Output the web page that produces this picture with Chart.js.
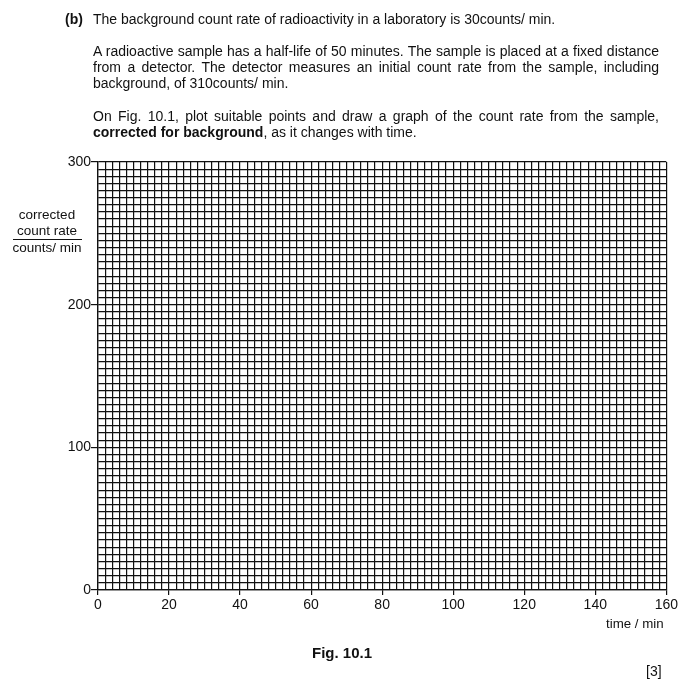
<!DOCTYPE html>
<html>
<head>
<meta charset="utf-8">
<script src="https://cdn.jsdelivr.net/npm/chart.js@4/dist/chart.umd.min.js"></script>
<style>
  html, body { margin: 0; padding: 0; background: #fff; }
  body { width: 680px; height: 689px; position: relative; overflow: hidden;
         font-family: "Liberation Sans", Arial, sans-serif; color: #111; }
  #wrap { position: absolute; left: 0; top: 0; width: 680px; height: 689px; }
  .t { position: absolute; font-size: 14px; line-height: 16px; white-space: nowrap; }
  .j { position: absolute; left: 93px; width: 566px; font-size: 14px; line-height: 16px;
       white-space: nowrap; text-align: justify; text-align-last: justify; }
  .c { position: absolute; font-size: 13.5px; line-height: 16px; text-align: center; }
</style>
</head>
<body>
<div id="wrap"><canvas id="chart" width="680" height="689"></canvas></div>

<div class="t" style="left:65px; top:11px;"><b>(b)</b></div>
<div class="t" style="left:93px; top:11px;">The background count rate of radioactivity in a laboratory is 30counts/ min.</div>

<div class="j" style="top:43px;">A radioactive sample has a half-life of 50 minutes. The sample is placed at a fixed distance</div>
<div class="j" style="top:59px;">from a detector. The detector measures an initial count rate from the sample, including</div>
<div class="t" style="left:93px; top:75px;">background, of 310counts/ min.</div>

<div class="j" style="top:108px;">On Fig. 10.1, plot suitable points and draw a graph of the count rate from the sample,</div>
<div class="t" style="left:93px; top:124px;"><b>corrected for background</b>, as it changes with time.</div>

<div class="c" style="left:8px; width:78px; top:207px;">corrected</div>
<div class="c" style="left:8px; width:78px; top:223px;">count rate</div>
<div style="position:absolute; left:13px; width:69px; top:239px; height:1px; background:#111;"></div>
<div class="c" style="left:8px; width:78px; top:240px;">counts/ min</div>

<div class="t" style="left:606px; top:616px; font-size:13.3px;">time / min</div>
<div class="t" style="left:312px; top:645px; font-size:15px;"><b>Fig. 10.1</b></div>
<div class="t" style="left:646px; top:663px;">[3]</div>

<script>
// Axis ranges and labelled ticks
const xMin = 0, xMax = 160, xMinorStep = 2;
const yMin = 0, yMax = 300, yMinorStep = 5;
const xTickLabels = [0, 20, 40, 60, 80, 100, 120, 140, 160];
const yTickLabels = [0, 100, 200, 300];
// The grid is blank: no plotted points in the reference
const times = [];
const countRates = [];

const points = times.map((t, i) => ({ x: t, y: countRates[i] }));

const ink = '#111';
const tickFont = { family: '"Liberation Sans", Arial, sans-serif', size: 14 };

new Chart(document.getElementById('chart'), {
  type: 'scatter',
  data: { datasets: [{ data: points, borderColor: ink, backgroundColor: ink }] },
  options: {
    responsive: false,
    animation: false,
    events: [],
    layout: { padding: { left: 0, right: 12, top: 162, bottom: 69 } },
    plugins: { legend: { display: false }, tooltip: { enabled: false } },
    scales: {
      x: {
        type: 'linear', min: xMin, max: xMax,
        afterFit: s => { s.height = 30; },
        border: { display: true, color: ink, width: 1.3 },
        grid: {
          color: ink, lineWidth: 1.2, drawTicks: true, tickLength: 5,
          tickColor: c => xTickLabels.includes(c.tick && c.tick.value) ? ink : 'rgba(0,0,0,0)'
        },
        ticks: {
          stepSize: xMinorStep, autoSkip: false, maxRotation: 0, padding: 2,
          color: '#111', font: tickFont,
          callback: v => xTickLabels.includes(v) ? String(v) : ''
        }
      },
      y: {
        type: 'linear', min: yMin, max: yMax,
        afterFit: s => { s.width = 98; },
        border: { display: true, color: ink, width: 1.3 },
        grid: {
          color: ink, lineWidth: 1.2, drawTicks: true, tickLength: 7,
          tickColor: c => yTickLabels.includes(c.tick && c.tick.value) ? ink : 'rgba(0,0,0,0)'
        },
        ticks: {
          stepSize: yMinorStep, autoSkip: false, padding: 0,
          color: '#111', font: tickFont,
          callback: v => yTickLabels.includes(v) ? String(v) : ''
        }
      }
    }
  }
});
</script>
</body>
</html>
